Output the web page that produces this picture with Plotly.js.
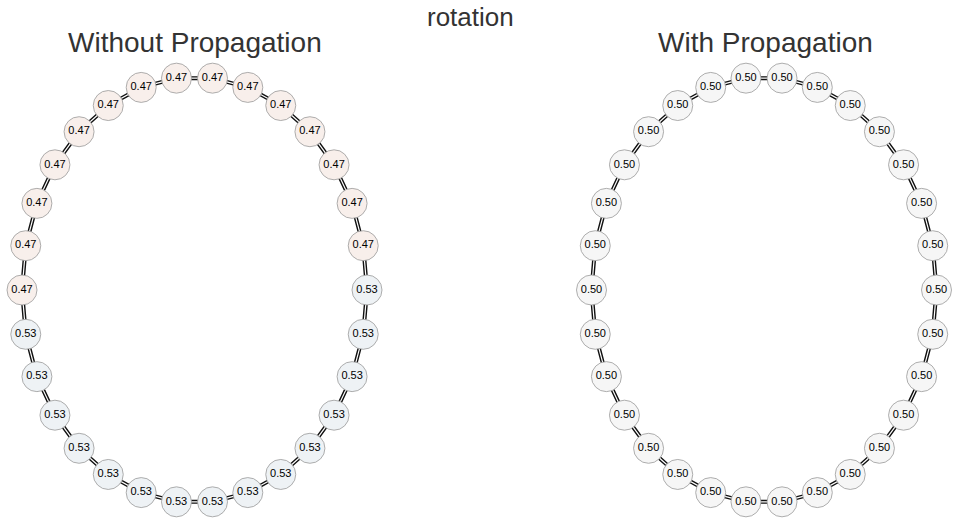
<!DOCTYPE html>
<html>
<head>
<meta charset="utf-8">
<script src="https://cdn.plot.ly/plotly-3.0.1.min.js"></script>
<style>body{margin:0;background:#fff}#plot{width:960px;height:525px}</style>
</head>
<body>
<div id="plot"></div>
<script>
// node values, starting at the rightmost node and going counter-clockwise (12 degree steps)
const withoutValues = [0.53, 0.47, 0.47, 0.47, 0.47, 0.47, 0.47, 0.47, 0.47, 0.47, 0.47, 0.47, 0.47, 0.47, 0.47, 0.47,
  0.53, 0.53, 0.53, 0.53, 0.53, 0.53, 0.53, 0.53, 0.53, 0.53, 0.53, 0.53, 0.53, 0.53];
const withValues = Array(30).fill(0.50);
const panelTitles = ['Without Propagation', 'With Propagation'];

const colorFor = v => v < 0.495 ? '#f8efeb' : (v > 0.505 ? '#eef2f5' : '#f6f6f6');

// ring layout in pixel space
function ringLayout(n, cx, cy, rx, ry) {
  const pts = [];
  for (let i = 0; i < n; i++) {
    const a = i * 2 * Math.PI / n;
    pts.push({ x: cx + rx * Math.cos(a), y: cy - ry * Math.sin(a) });
  }
  return pts;
}

function panelTraces(values, cx) {
  const pts = ringLayout(values.length, cx, 290, 172.5, 213);
  const lx = pts.map(p => p.x).concat([pts[0].x]);
  const ly = pts.map(p => p.y).concat([pts[0].y]);
  return [
    { x: lx, y: ly, mode: 'lines', line: { color: '#111', width: 4 }, hoverinfo: 'none' },
    { x: lx, y: ly, mode: 'lines', line: { color: '#fff', width: 1.2 }, hoverinfo: 'none' },
    {
      x: pts.map(p => p.x), y: pts.map(p => p.y), mode: 'markers+text', type: 'scatter',
      marker: { size: 30, color: values.map(colorFor), line: { color: '#999', width: 0.8 } },
      text: values.map(v => v.toFixed(2)), textposition: 'middle center',
      textfont: { family: 'Liberation Sans, Arial', size: 11, color: '#000' }, hoverinfo: 'text'
    }
  ];
}

const data = [...panelTraces(withoutValues, 194.5), ...panelTraces(withValues, 764)];

const titleFont = { family: 'Liberation Sans, Arial', size: 28, color: '#333' };
const layout = {
  width: 960, height: 525, showlegend: false,
  margin: { l: 0, r: 0, t: 0, b: 0 },
  paper_bgcolor: '#fff', plot_bgcolor: '#fff',
  xaxis: { range: [0, 960], visible: false, fixedrange: true },
  yaxis: { range: [525, 0], visible: false, fixedrange: true },
  annotations: [
    { x: 470, y: 17, xref: 'x', yref: 'y', text: 'rotation', showarrow: false, font: { ...titleFont, size: 26 } },
    { x: 195, y: 42, xref: 'x', yref: 'y', text: panelTitles[0], showarrow: false, font: titleFont },
    { x: 765, y: 42, xref: 'x', yref: 'y', text: panelTitles[1], showarrow: false, font: titleFont }
  ]
};

Plotly.newPlot('plot', data, layout, { displayModeBar: false, staticPlot: true });
</script>
</body>
</html>
